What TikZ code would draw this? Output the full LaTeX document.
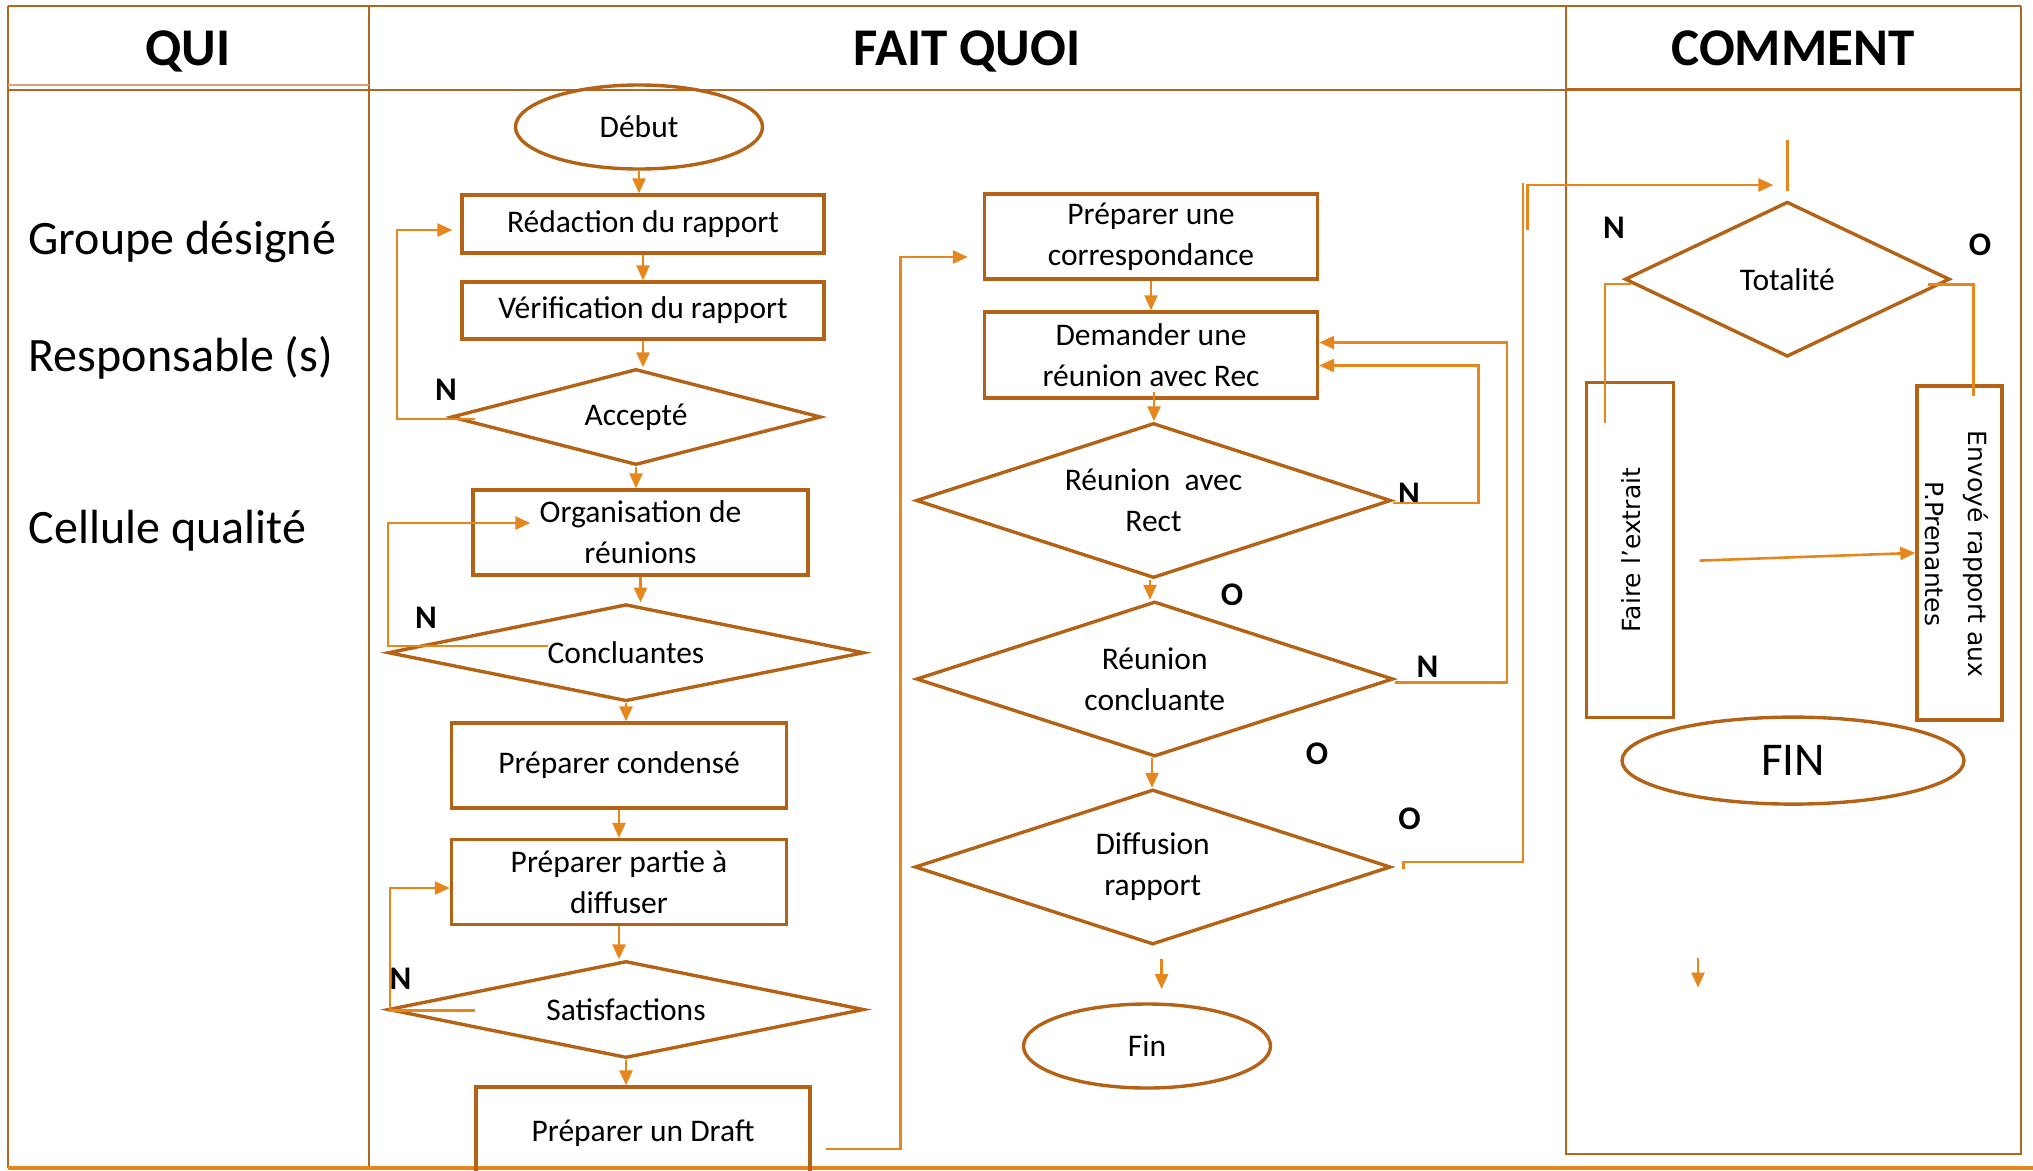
\documentclass[tikz,border=0pt]{standalone}
\usepackage{fontspec}
\setmainfont{Carlito}
\newfontfamily\vfont{DejaVu Sans}
\usetikzlibrary{shapes.geometric,arrows.meta}
\definecolor{shapeedge}{RGB}{180,99,22}
\definecolor{wire}{RGB}{232,134,30}
\definecolor{rulecol}{RGB}{178,102,30}

\begin{document}
\begin{tikzpicture}[x=1pt,y=-1pt,
  box/.style={draw=shapeedge, line width=3.4pt, rectangle, inner sep=0pt, align=center,
    font=\fontsize{31.5}{41}\selectfont},
  dia/.style={draw=shapeedge, line width=3.4pt, diamond, inner sep=0pt, align=center,
    font=\fontsize{31.5}{41}\selectfont},
  term/.style={draw=shapeedge, line width=3.4pt, ellipse, inner sep=0pt,
    font=\fontsize{31.5}{41}\selectfont},
  flow/.style={draw=wire, line width=2.6pt, -{Triangle[length=15pt,width=13pt]}},
  plain/.style={draw=wire, line width=2.6pt},
  yn/.style={font=\bfseries\fontsize{33}{33}\selectfont, inner sep=0pt},
  head/.style={font=\bfseries\fontsize{53}{53}\selectfont, anchor=base, inner sep=0pt},
  who/.style={font=\fontsize{48}{48}\selectfont, anchor=base west, inner sep=0pt},
  vtext/.style={font=\vfont\fontsize{25}{43}\selectfont, align=center, inner sep=0pt},
  frame/.style={draw=rulecol, line width=2pt},
  ]
\useasboundingbox (0,0) rectangle (2033,1170);
\clip (0,0) rectangle (2033,1170);

% ---- table frame ----
\draw[frame] (8,6) -- (2021,6);
\draw[frame] (8,6) -- (8,1168);
\draw[frame] (369,6) -- (369,1168);
\draw[frame, line width=2.4pt] (1566,6) -- (1566,1154) -- (2021,1154) -- (2021,6);
\draw[draw=rulecol!60, line width=1.4pt] (8,85) -- (369,85);
\draw[frame] (8,89.5) -- (1566,89.5);
\draw[frame, line width=3pt] (1566,89) -- (2021,89);
\draw[draw=wire, line width=3.5pt] (8,1168) -- (2033,1168);

% ---- column headers ----
\node[head] (hqui) at (188,65) {QUI};
\node[head] (hquoi) at (967,65) {FAIT QUOI};
\node[head] (hcomment) at (1793,65) {COMMENT};

% ---- actors ----
\node[who] (w1) at (28.5,254.5) {Groupe désigné};
\node[who] (w2) at (28.5,371) {Responsable (s)};
\node[who] (w3) at (28.5,543) {Cellule qualité};

% ---- first column of steps ----
\node[term, minimum width=247, minimum height=84] (debut) at (639,127) {Début};
\node[box, minimum width=362, minimum height=58] (redac) at (643,224) {Rédaction du rapport};
\node[box, minimum width=362, minimum height=57] (verif) at (643,310.5) {Vérification du rapport};
\node[dia, shape aspect=3.85, minimum width=370, minimum height=96] (accepte) at (636,417) {Accepté};
\node[box, minimum width=335, minimum height=85] (orga) at (640.5,532.5) {Organisation de\\réunions};
\node[dia, shape aspect=4.9, minimum width=476, minimum height=97] (concl) at (626,652.7) {Concluantes};
\node[box, minimum width=335, minimum height=85] (cond) at (619,765.5) {Préparer condensé};
\node[box, minimum width=335, minimum height=85] (partie) at (619,882) {Préparer partie à\\diffuser};
\node[dia, shape aspect=4.9, minimum width=476, minimum height=97] (satis) at (626,1009.5) {Satisfactions};
\node[box, minimum width=334, minimum height=92] (draft) at (643,1133) {Préparer un Draft};

% ---- second column of steps ----
\node[box, minimum width=333, minimum height=85] (corr) at (1151,236.6) {Préparer une\\correspondance};
\node[box, minimum width=333, minimum height=86] (dem) at (1151,355) {Demander une\\réunion avec Rec};
\node[dia, shape aspect=3.06, minimum width=475, minimum height=155] (rar) at (1153.5,500.5) {Réunion~~avec\\Rect};
\node[dia, shape aspect=3.08, minimum width=477, minimum height=155] (rc) at (1154.7,679) {Réunion\\concluante};
\node[dia, shape aspect=3.07, minimum width=476, minimum height=155] (diff) at (1152.7,867) {Diffusion\\rapport};
\node[term, minimum width=247, minimum height=84] (fin) at (1147,1046) {Fin};

% ---- third column ----
\node[dia, shape aspect=2.1, minimum width=325, minimum height=155] (tot) at (1787.3,279.2) {Totalité};
\node[box, minimum width=87, minimum height=335] (faire) at (1629.7,549.7) {};
\node[vtext, rotate=90] (fairetxt) at (1631,550) {Faire l’extrait};
\node[box, minimum width=85, minimum height=334] (envoye) at (1959.5,552.9) {};
\node[vtext, rotate=-90] (envoyetxt) at (1956.5,554) {Envoyé rapport aux\\P.Prenantes};
\node[term, minimum width=342, minimum height=87, font=\fontsize{47}{47}\selectfont] (FIN) at (1793,760.6) {FIN};

% ---- answer marks ----
\node[yn] (n1) at (446,390) {N};
\node[yn] (n2) at (426,617.6) {N};
\node[yn] (n3) at (400.5,979) {N};
\node[yn] (n4) at (1409,494) {N};
\node[yn] (o1) at (1232,595) {O};
\node[yn] (n5) at (1427.5,666.5) {N};
\node[yn] (o2) at (1317,754) {O};
\node[yn] (o3) at (1409.4,819) {O};
\node[yn] (n6) at (1614,227.7) {N};
\node[yn] (o4) at (1980,245) {O};

% ---- main flow, first column ----
\draw[flow] (debut.south) -- (debut.south |- redac.north);
\draw[flow] (redac.south) -- (redac.south |- verif.north);
\draw[flow] (verif.south) -- (verif.south |- accepte.north);
\draw[flow] (accepte.south) -- (accepte.south |- orga.north);
\draw[flow] (orga.south) -- (orga.south |- concl.north);
\draw[flow] (concl.south) -- (concl.south |- cond.north);
\draw[flow] (cond.south) -- (cond.south |- partie.north);
\draw[flow] (partie.south) -- (partie.south |- satis.north);
\draw[flow] (satis.south) -- (satis.south |- draft.north);

% ---- "N" loops, first column ----
\coordinate (aN0) at (475,419);
\draw[flow, shorten >=8pt] (aN0) -- ++(-78,0) |- ([yshift=-6pt]redac.west);
\coordinate (cN0) at (548,646);
\draw[flow] (cN0) -- ++(-160,0) |- ([xshift=59pt,yshift=9.5pt]orga.west);
\coordinate (sN0) at (475,1010.5);
\draw[flow] (sN0) -- ++(-85,0) |- ([yshift=-6pt]partie.west);

% ---- draft to second column ----
\draw[flow, shorten >=15pt] ([xshift=14pt,yshift=-16pt]draft.east) -- ++(75,0)
  |- ([yshift=-20.4pt]corr.west);

% ---- main flow, second column ----
\draw[flow] (corr.south) -- (corr.south |- dem.north);
\draw[flow] ([xshift=3pt,yshift=8pt]dem.south) -- ([xshift=3pt]dem.south |- rar.north);
\draw[flow] ([xshift=-3.5pt]rar.south) -- ([xshift=-3.5pt]rar.south |- rc.north);
\draw[flow] ([xshift=-2.7pt]rc.south) -- ([xshift=-2.7pt]rc.south |- diff.north);

% ---- "N" loops, second column ----
\draw[flow] ([yshift=-2.5pt]rar.east) -- ++(86,0) |- ([yshift=-10.5pt]dem.east);
\draw[flow] ([yshift=-3.7pt]rc.east) -- ++(112,0) |- ([yshift=12.5pt]dem.east);

% ---- "O" from diffusion to the third column ----
\coordinate (dO0) at (1403.6,869);
\coordinate (dO1) at (1522.8,183);
\draw[plain] (dO0) -- ++(0,-7) -| (dO1);
\coordinate (tIn0) at (1527.7,230);
\draw[flow] (tIn0) |- ([xshift=-14pt,yshift=15pt]tot.north);
\draw[plain] ([yshift=9pt]tot.north) -- ++(0,-51);

% ---- third column ----
\draw[plain] ([xshift=8.3pt,yshift=-4.8pt]tot.west) -- ++(-26.4,0) -- ++(0,139);
\draw[plain] ([xshift=-23.8pt,yshift=-5.5pt]tot.east) -- ++(45.5,0) -- ++(0,111.3);
\draw[flow] ([xshift=24.8pt,yshift=-10.9pt]faire.east) -- (envoye.west);

% ---- loose arrows ----
\coordinate (fa0) at (1161.6,959);
\draw[flow] (fa0) -- ++(0,30);
\coordinate (fb0) at (1698,958);
\draw[flow] (fb0) -- ++(0,29.5);
\end{tikzpicture}
\end{document}
